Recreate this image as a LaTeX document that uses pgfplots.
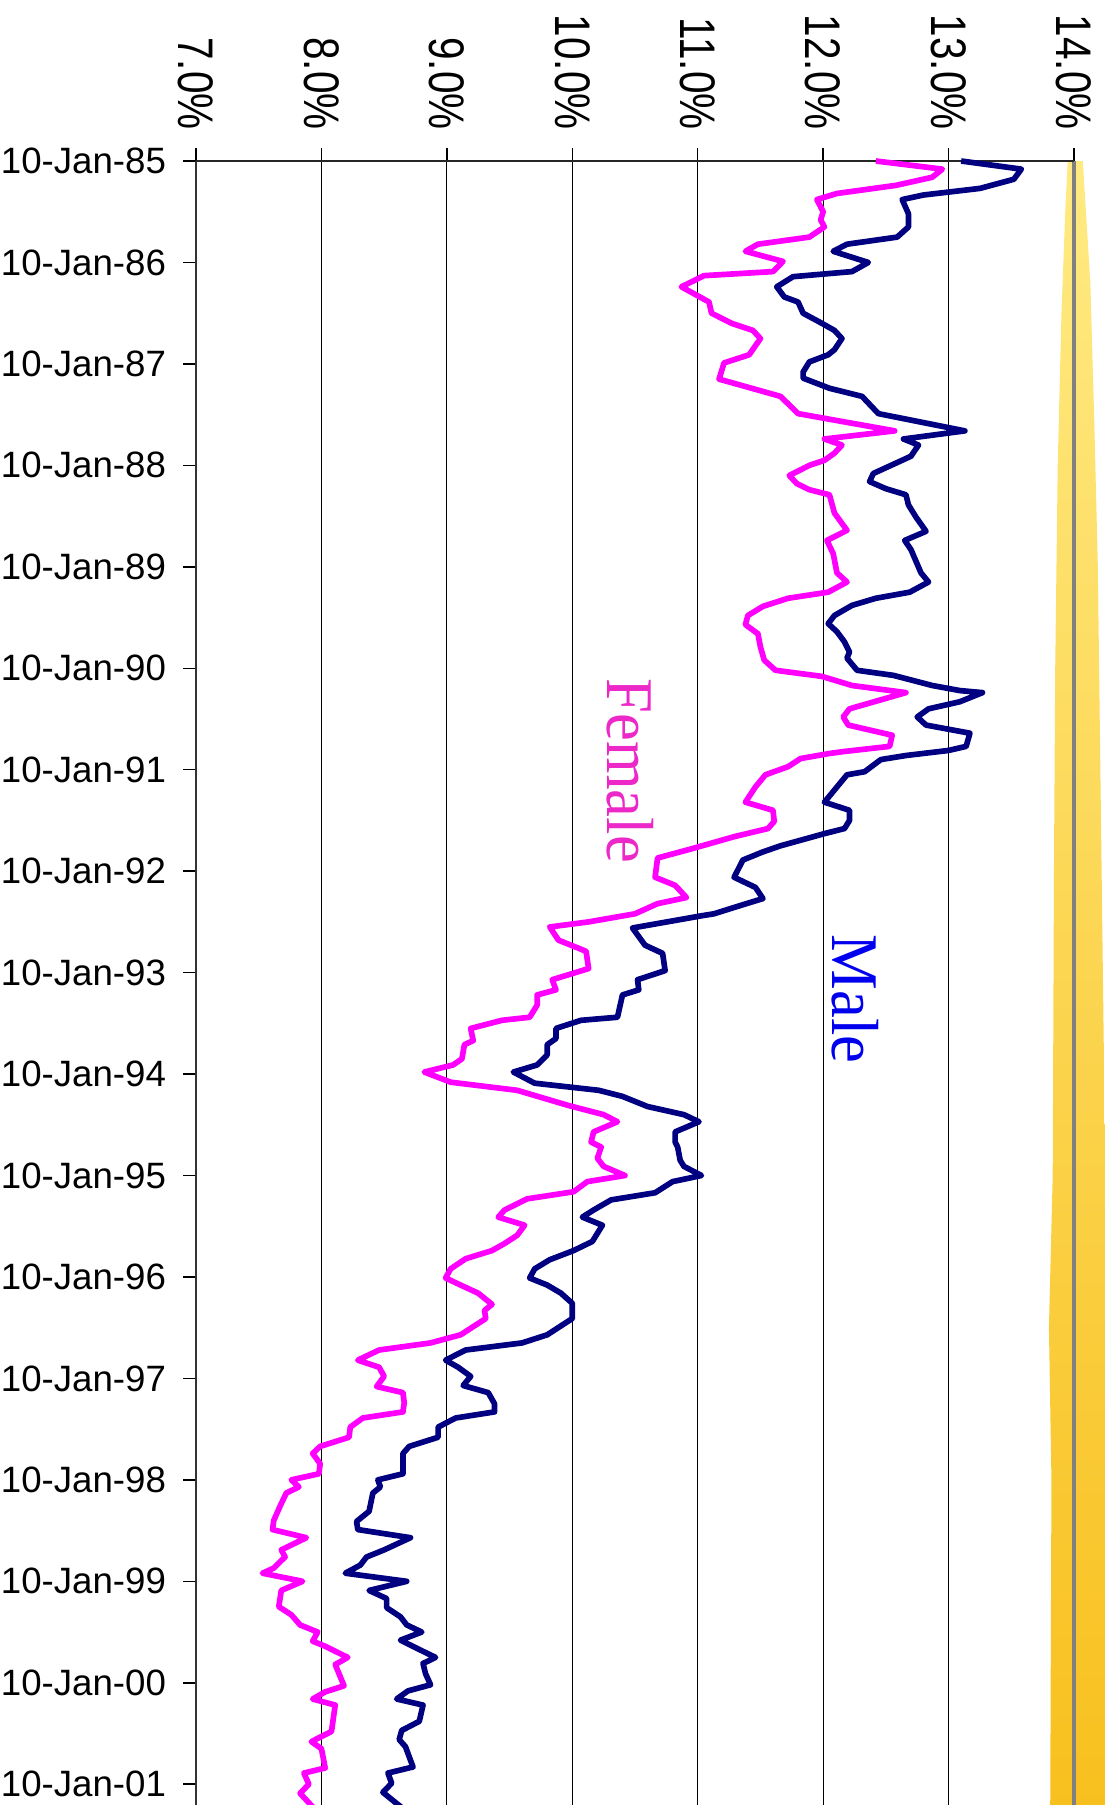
\documentclass[border=0pt]{standalone}
\usepackage{fontspec}
\setmainfont{Liberation Sans}
\newfontfamily\pctfont[FakeStretch=0.81]{Liberation Sans}
\newfontfamily\seriflabel[FakeStretch=0.94]{Liberation Serif}
\usepackage{pgfplots}
\usepackage{pgfplotstable}
\pgfplotsset{compat=1.18}

\definecolor{maleline}{RGB}{0,0,128}
\definecolor{femaleline}{RGB}{255,0,255}
\definecolor{femaletext}{RGB}{236,40,200}
\definecolor{maletext}{RGB}{0,0,238}
\definecolor{bandtop}{RGB}{255,234,130}
\definecolor{bandbot}{RGB}{248,192,30}

% yr = years since 10-Jan-85, rate in percent
\pgfplotstableread{
yr rate
0.00 13.10
0.08 13.58
0.18 13.52
0.27 13.25
0.335 12.80
0.38 12.63
0.52 12.68
0.65 12.68
0.75 12.59
0.82 12.19
0.89 12.08
1.00 12.36
1.09 12.23
1.14 11.76
1.24 11.63
1.34 11.69
1.39 11.80
1.50 11.84
1.60 11.99
1.67 12.09
1.75 12.15
1.86 12.09
1.91 12.04
1.98 11.89
2.08 11.84
2.14 11.84
2.24 12.05
2.32 12.31
2.49 12.44
2.66 13.13
2.74 12.64
2.80 12.76
2.91 12.70
3.08 12.40
3.16 12.37
3.23 12.50
3.29 12.66
3.39 12.68
3.51 12.74
3.65 12.82
3.74 12.65
3.83 12.70
4.06 12.78
4.15 12.84
4.25 12.69
4.31 12.42
4.38 12.23
4.48 12.09
4.56 12.04
4.64 12.11
4.74 12.17
4.84 12.21
4.90 12.19
5.02 12.27
5.07 12.56
5.17 12.87
5.22 13.09
5.24 13.27
5.33 13.09
5.40 12.84
5.48 12.75
5.56 12.82
5.64 13.17
5.77 13.14
5.81 13.00
5.86 12.66
5.90 12.46
6.02 12.33
6.05 12.19
6.17 12.11
6.32 12.01
6.40 12.21
6.50 12.21
6.58 12.17
6.63 12.01
6.75 11.66
6.81 11.52
6.89 11.36
7.06 11.29
7.16 11.46
7.27 11.52
7.35 11.31
7.42 11.13
7.44 11.03
7.56 10.48
7.73 10.58
7.81 10.72
7.98 10.74
8.07 10.52
8.17 10.53
8.22 10.40
8.44 10.36
8.47 10.07
8.55 9.87
8.65 9.87
8.71 9.80
8.81 9.80
8.91 9.72
8.98 9.53
9.09 9.70
9.16 10.21
9.22 10.40
9.32 10.60
9.40 10.89
9.47 11.01
9.57 10.82
9.67 10.82
9.72 10.84
9.85 10.86
9.91 10.89
10.00 11.03
10.06 10.80
10.17 10.66
10.24 10.31
10.34 10.17
10.41 10.08
10.49 10.24
10.65 10.16
10.74 10.01
10.83 9.82
10.92 9.70
11.01 9.66
11.08 9.80
11.16 9.91
11.26 10.00
11.41 10.00
11.57 9.80
11.65 9.60
11.72 9.15
11.82 8.99
11.89 9.09
11.98 9.19
12.07 9.13
12.14 9.33
12.25 9.38
12.33 9.38
12.39 9.07
12.48 8.93
12.58 8.93
12.67 8.70
12.74 8.65
12.94 8.65
13.00 8.45
13.07 8.47
13.13 8.41
13.31 8.38
13.41 8.28
13.49 8.29
13.57 8.71
13.69 8.50
13.76 8.36
13.84 8.31
13.92 8.19
14.00 8.68
14.09 8.38
14.17 8.52
14.26 8.52
14.35 8.63
14.43 8.68
14.50 8.80
14.58 8.63
14.66 8.76
14.75 8.91
14.81 8.81
14.91 8.83
15.02 8.87
15.08 8.69
15.16 8.60
15.22 8.81
15.38 8.78
15.47 8.64
15.56 8.62
15.63 8.67
15.83 8.73
15.89 8.53
15.99 8.56
16.08 8.49
16.25 8.66
}\maledata

\pgfplotstableread{
yr rate
0.00 12.42
0.08 12.95
0.16 12.87
0.24 12.58
0.32 12.11
0.38 11.95
0.50 12.00
0.58 11.98
0.65 12.01
0.75 11.89
0.82 11.48
0.89 11.38
0.99 11.68
1.09 11.60
1.13 11.05
1.24 10.87
1.39 11.09
1.50 11.11
1.60 11.27
1.67 11.44
1.75 11.50
1.91 11.41
1.99 11.21
2.15 11.17
2.32 11.66
2.49 11.80
2.66 12.57
2.74 12.01
2.80 12.15
2.88 12.09
2.95 12.01
3.00 11.89
3.10 11.73
3.18 11.79
3.24 11.89
3.29 12.05
3.47 12.09
3.64 12.19
3.74 12.03
3.87 12.08
4.06 12.11
4.15 12.19
4.25 12.04
4.31 11.72
4.39 11.52
4.48 11.40
4.57 11.38
4.66 11.48
4.79 11.50
4.92 11.53
5.02 11.62
5.08 11.99
5.17 12.23
5.24 12.66
5.40 12.21
5.48 12.16
5.56 12.20
5.66 12.55
5.77 12.53
5.82 12.17
5.84 12.05
5.89 11.82
5.97 11.72
6.05 11.54
6.17 11.46
6.32 11.38
6.40 11.60
6.51 11.61
6.58 11.56
6.66 11.29
6.78 10.95
6.87 10.68
7.06 10.66
7.14 10.82
7.26 10.91
7.32 10.68
7.42 10.50
7.50 10.13
7.55 9.82
7.68 9.89
7.79 10.11
7.96 10.13
8.07 9.84
8.17 9.87
8.22 9.72
8.32 9.72
8.44 9.66
8.47 9.44
8.55 9.19
8.67 9.21
8.71 9.14
8.85 9.12
8.91 9.05
8.98 8.82
9.08 9.03
9.16 9.56
9.31 9.97
9.40 10.25
9.47 10.36
9.57 10.17
9.67 10.15
9.72 10.23
9.83 10.20
9.91 10.25
10.00 10.42
10.06 10.12
10.16 10.01
10.23 9.64
10.34 9.46
10.41 9.41
10.49 9.62
10.59 9.56
10.67 9.46
10.74 9.36
10.82 9.15
10.92 9.03
11.01 8.99
11.08 9.11
11.16 9.25
11.27 9.36
11.33 9.30
11.41 9.31
11.49 9.21
11.57 9.11
11.65 8.87
11.72 8.46
11.82 8.29
11.89 8.46
11.98 8.50
12.08 8.44
12.14 8.65
12.24 8.66
12.33 8.65
12.39 8.33
12.48 8.23
12.58 8.22
12.67 7.99
12.74 7.93
12.84 7.99
12.94 7.98
13.00 7.76
13.07 7.82
13.13 7.72
13.26 7.67
13.40 7.62
13.49 7.61
13.57 7.88
13.69 7.68
13.76 7.71
13.87 7.62
13.92 7.53
14.00 7.85
14.09 7.68
14.25 7.66
14.33 7.76
14.43 7.83
14.50 7.97
14.59 7.93
14.64 8.03
14.75 8.21
14.82 8.11
14.94 8.15
15.03 8.18
15.09 8.03
15.16 7.93
15.22 8.11
15.48 8.08
15.58 7.92
15.65 8.00
15.84 8.03
15.89 7.86
16.00 7.90
16.09 7.83
16.25 7.95
}\femaledata

\begin{document}
\begin{tikzpicture}
\begin{axis}[
  x=37.629pt, y=30.435pt,
  y dir=reverse,
  xmin=7, xmax=14, ymin=0, ymax=16.4,
  clip=false,
  axis line style={draw=none},
  xtick={7,8,9,10,11,12,13,14},
  xticklabels={7.0\%,8.0\%,9.0\%,10.0\%,11.0\%,12.0\%,13.0\%,14.0\%},
  ytick={0,1,...,16},
  yticklabels={10-Jan-85,10-Jan-86,10-Jan-87,10-Jan-88,10-Jan-89,10-Jan-90,
    10-Jan-91,10-Jan-92,10-Jan-93,10-Jan-94,10-Jan-95,10-Jan-96,10-Jan-97,
    10-Jan-98,10-Jan-99,10-Jan-00,10-Jan-01},
  tick align=outside,
  xtick pos=right, xticklabel pos=right,
  ytick pos=left, yticklabel pos=left,
  major tick length=3.8pt,
  tick style={black, line width=0.45pt},
  xmajorgrids,
  grid style={black, line width=0.35pt},
  xticklabel style={font=\pctfont\fontsize{15}{15}\selectfont, rotate=-90, anchor=east, inner sep=0pt},
  yticklabel style={font=\fontsize{11}{11}\selectfont, anchor=east, inner sep=0pt},
  xticklabel shift=5.4pt,
  yticklabel shift=5pt,
]
% page area
\coordinate (bbA) at (axis cs:5.4374,-1.587);
\coordinate (bbB) at (axis cs:14.247,16.205);

% yellow strip along the right edge
\shade[top color=bandtop, bottom color=bandbot]
  (axis cs:13.95,0) -- (axis cs:14.07,0) -- (axis cs:14.10,0.6) -- (axis cs:14.13,1.2)
  -- (axis cs:14.16,2.5) -- (axis cs:14.19,4) -- (axis cs:14.21,6) -- (axis cs:14.23,8)
  -- (axis cs:14.25,10) -- (axis cs:14.25,16.3) -- (axis cs:13.81,16.3) -- (axis cs:13.82,13)
  -- (axis cs:13.80,11.5) -- (axis cs:13.83,10) -- (axis cs:13.84,7) -- (axis cs:13.85,5)
  -- (axis cs:13.87,3) -- (axis cs:13.90,1.5) -- (axis cs:13.93,0.5) -- cycle;

% frame
\draw[gray, line width=1.1pt] (axis cs:14,0) -- (axis cs:14,16.4);
\draw[black!80, line width=0.8pt] (axis cs:7,0) -- (axis cs:7,16.4);
\draw[black!85, line width=0.8pt] (axis cs:7,0) -- (axis cs:14,0);

\addplot[maleline, line width=1.7pt, line join=round, no markers] table[x=rate, y=yr] {\maledata};
\addplot[femaleline, line width=1.7pt, line join=round, no markers] table[x=rate, y=yr] {\femaledata};

\node[rotate=-90, inner sep=0pt, text=femaletext, font=\seriflabel\fontsize{20}{20}\selectfont] at (axis cs:10.46,6.01) {Female};
\node[rotate=-90, inner sep=0pt, text=maletext, font=\seriflabel\fontsize{20}{20}\selectfont] at (axis cs:12.26,8.26) {Male};
\end{axis}
\pgfresetboundingbox
\path[use as bounding box] (bbA) rectangle (bbB);
\end{tikzpicture}
\end{document}
